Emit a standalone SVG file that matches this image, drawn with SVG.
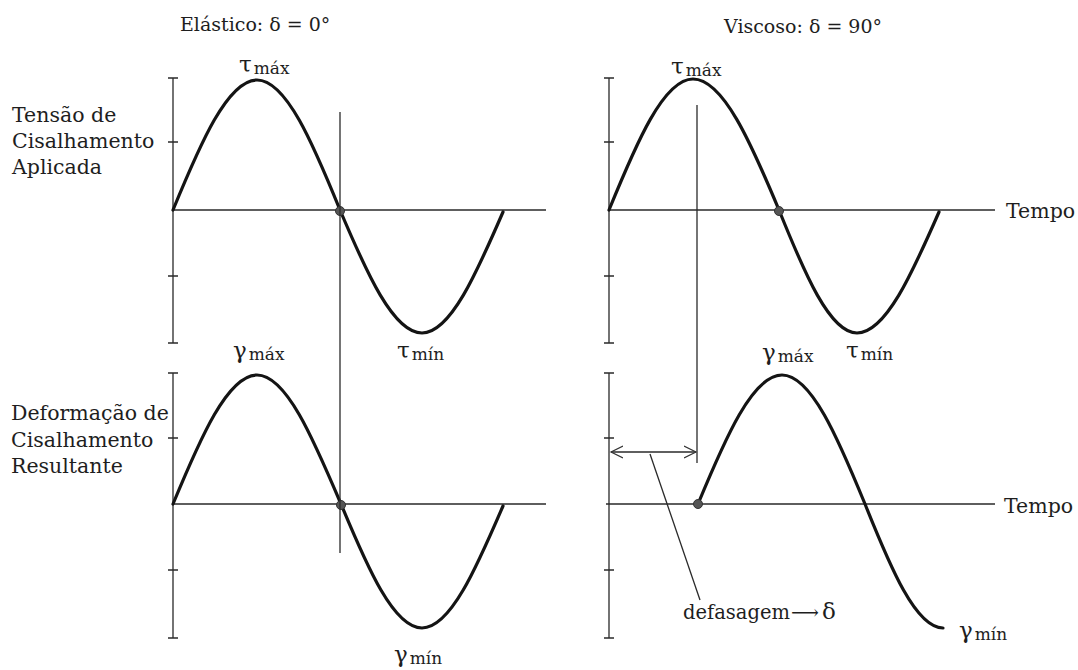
<svg xmlns="http://www.w3.org/2000/svg" width="1078" height="670" viewBox="0 0 1078 670">
<style>
  text { font-family: "DejaVu Serif", "Liberation Serif", serif; fill: #1e1e1e; }
  .lbl { font-size: 20.5px; }
  .title { font-size: 19px; }
  .greek { font-size: 23px; }
  .sub { font-size: 17px; }
  .axis { stroke: #2a2a2a; stroke-width: 1.3; fill: none; }
  .curve { stroke: #141414; stroke-width: 3.2; fill: none; stroke-linecap: round; stroke-linejoin: round; }
  .guide { stroke: #2a2a2a; stroke-width: 1.3; fill: none; }
  .dot { fill: #555; stroke: #333; stroke-width: 1; }
</style>
<defs>
  <marker id="open" markerUnits="userSpaceOnUse" markerWidth="14" markerHeight="14" refX="12" refY="6" orient="auto-start-reverse" viewBox="0 0 14 12">
    <path d="M0,0 L12,6 L0,12" fill="none" stroke="#333" stroke-width="1.2"/>
  </marker>
</defs>
<rect width="1078" height="670" fill="#ffffff"/>

<g id="titles">
  <text class="title" x="180" y="31">Elástico: δ = 0°</text>
  <text class="title" x="724" y="33">Viscoso: δ = 90°</text>
</g>

<g id="label-tensao">
  <text class="lbl" x="12" y="122">Tensão de</text>
  <text class="lbl" x="12" y="148">Cisalhamento</text>
  <text class="lbl" x="12" y="174">Aplicada</text>
</g>
<g id="label-deformacao">
  <text class="lbl" x="11" y="420">Deformação de</text>
  <text class="lbl" x="11" y="447">Cisalhamento</text>
  <text class="lbl" x="11" y="473">Resultante</text>
</g>

<!-- Top-left panel -->
<g id="panel-elastic-stress">
  <path class="axis" d="M173,78 V343 M168,78 H178 M168,343 H178 M168,142 H178 M168,276 H178 M173,210 H546"/>
  <path class="curve" d="M173,210 C200.4,143.4 227.7,80 257,80 C286,80 312.9,143.4 340,210 C366.7,273 393.4,333 422,333 C450.3,333 476.6,273 503,212"/>
  <circle class="dot" cx="340" cy="211" r="4.5"/>
  <text x="239" y="72"><tspan class="greek">τ</tspan><tspan class="sub" dx="2" dy="2">máx</tspan></text>
  <text x="397" y="358"><tspan class="greek">τ</tspan><tspan class="sub" dx="2" dy="2">mín</tspan></text>
</g>

<!-- Bottom-left panel -->
<g id="panel-elastic-strain">
  <path class="axis" d="M173,373 V638 M168,373 H178 M168,638 H178 M168,438 H178 M168,570 H178 M173,504 H546"/>
  <path class="curve" d="M173,504 C200.4,437.9 227.7,375 257,375 C286,375 312.9,437.9 341,504 C367.4,567.5 393.7,628 422,628 C450.3,628 476.6,567.5 503,506"/>
  <circle class="dot" cx="341" cy="505" r="4.5"/>
  <text x="233" y="358"><tspan class="greek">γ</tspan><tspan class="sub" dx="2" dy="2">máx</tspan></text>
  <text x="394" y="662"><tspan class="greek">γ</tspan><tspan class="sub" dx="2" dy="2">mín</tspan></text>
</g>

<!-- Top-right panel -->
<g id="panel-viscous-stress">
  <path class="axis" d="M609,78 V343 M604,78 H614 M604,343 H614 M604,142 H614 M604,276 H614 M609,210 H995"/>
  <path class="curve" d="M609,210 C636.4,142.9 663.7,79 693,79 C723,79 751,142.9 779,210 C804.4,273 829.8,333 857,333 C885.6,333 912.3,273 939,212"/>
  <circle class="dot" cx="779" cy="211" r="4.5"/>
  <text x="671" y="74"><tspan class="greek">τ</tspan><tspan class="sub" dx="2" dy="2">máx</tspan></text>
  <text x="846" y="358"><tspan class="greek">τ</tspan><tspan class="sub" dx="2" dy="2">mín</tspan></text>
  <text class="lbl" x="1006" y="218">Tempo</text>
</g>

<!-- Bottom-right panel -->
<g id="panel-viscous-strain">
  <path class="axis" d="M609,373 V638 M604,373 H614 M604,638 H614 M604,438 H614 M604,570 H614 M606,504 H995"/>
  <path class="curve" d="M698,504 C725.4,437.9 752.7,375 782,375 C811,375 837.9,437.9 865,504 C890.4,567.5 915.8,628 943,628"/>
  <circle class="dot" cx="698" cy="504" r="4.5"/>
  <text x="762" y="360"><tspan class="greek">γ</tspan><tspan class="sub" dx="2" dy="2">máx</tspan></text>
  <text x="959" y="638"><tspan class="greek">γ</tspan><tspan class="sub" dx="2" dy="2">mín</tspan></text>
  <text class="lbl" x="1004" y="513">Tempo</text>
</g>

<g id="connectors">
  <line class="guide" x1="340" y1="112" x2="340" y2="553"/>
  <line class="guide" x1="697" y1="105" x2="697" y2="463"/>
  <line class="guide" x1="611" y1="452" x2="696" y2="452" marker-start="url(#open)" marker-end="url(#open)"/>
  <line class="guide" x1="650" y1="454" x2="700" y2="600"/>
</g>

<g id="label-defasagem">
  <text x="683" y="619" style="font-size:19.5px">defasagem<tspan dx="1">⟶</tspan><tspan style="font-size:23px" dx="3">δ</tspan></text>
</g>
</svg>
